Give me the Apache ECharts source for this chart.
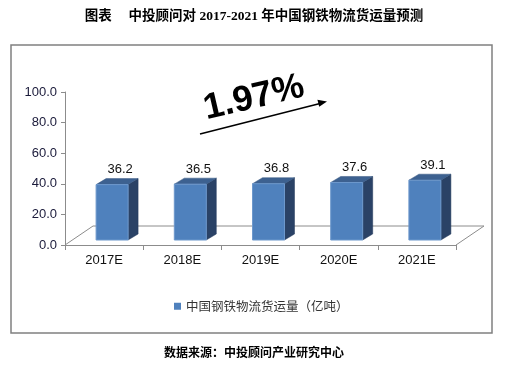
<!DOCTYPE html>
<html><head><meta charset="utf-8">
<script src="https://cdn.jsdelivr.net/npm/echarts@6/dist/echarts.min.js"></script>
<style>html,body{margin:0;padding:0;background:#fff}#c{width:508px;height:367px}</style>
</head><body><div id="c"></div>
<script>
var categories = ['2017E','2018E','2019E','2020E','2021E'];
var volumes = [36.2, 36.5, 36.8, 37.6, 39.1];
var yTicks = [0, 20, 40, 60, 80, 100];
var seriesName = '中国钢铁物流货运量（亿吨）';
var growthLabel = '1.97%';

var chart = echarts.init(document.getElementById('c'));
var FLOOR_DX = 28, FLOOR_DY = 19;
var BAR_OX = 8, BAR_OY = 5, BAR_W = 32, BAR_DX = 10, BAR_DY = 6;

function renderBar(params, api) {
  var i = api.value(0), v = api.value(1);
  var top = api.coord([i, v]), base = api.coord([i, 0]);
  var cx = top[0] + BAR_OX;
  var y0 = base[1] - BAR_OY, y1 = top[1] - BAR_OY;
  var l = cx - BAR_W / 2, r = cx + BAR_W / 2;
  return {
    type: 'group',
    children: [
      {type: 'polygon', shape: {points: [[r, y0], [r, y1], [r + BAR_DX, y1 - BAR_DY], [r + BAR_DX, y0 - BAR_DY]]},
       style: {fill: '#2a4266', stroke: '#22395a', lineWidth: 0.5}},
      {type: 'polygon', shape: {points: [[l, y1], [r, y1], [r + BAR_DX, y1 - BAR_DY], [l + BAR_DX, y1 - BAR_DY]]},
       style: {fill: '#3d6190', stroke: '#35557f', lineWidth: 0.5}},
      {type: 'rect', shape: {x: l, y: y1, width: BAR_W, height: y0 - y1},
       style: {fill: '#4f81bd', stroke: '#6d98cc', lineWidth: 1}},
      {type: 'text', x: cx + 8, y: y1 - 15,
       style: {text: v.toFixed(1), fill: '#111', font: '13px Arial, "Liberation Sans"', align: 'center', verticalAlign: 'middle'}}
    ]
  };
}

function renderFloor(params, api) {
  var c0 = api.coord([0, 0]);
  var band = api.size([1, 0])[0];
  var xl = c0[0] - band / 2, xr = xl + band * categories.length, y = c0[1];
  return {
    type: 'polyline',
    shape: {points: [[xl, y], [xl + FLOOR_DX, y - FLOOR_DY], [xr + FLOOR_DX, y - FLOOR_DY], [xr, y]]},
    style: {stroke: '#8c8c8c', lineWidth: 1, fill: null},
    z: 1
  };
}

var barData = volumes.map(function (v, i) { return [i, v]; });

chart.setOption({
  animation: false,
  title: {
    text: '图表　 中投顾问对 2017-2021 年中国钢铁物流货运量预测',
    left: 'center', top: 5,
    textStyle: {fontSize: 13.5, fontWeight: 'bold', color: '#000', fontFamily: '"Liberation Serif", "Noto Sans CJK SC", serif'}
  },
  legend: {
    data: [{name: seriesName, icon: 'rect'}],
    left: 169, top: 295, itemWidth: 7, itemHeight: 7, itemGap: 5,
    textStyle: {fontSize: 12.5, color: '#333', fontFamily: '"Noto Sans CJK SC", sans-serif'}
  },
  color: ['#4f81bd'],
  grid: {left: 65, right: 52, top: 92, bottom: 122},
  xAxis: {
    type: 'category', data: categories,
    axisLine: {lineStyle: {color: '#8c8c8c'}},
    axisTick: {show: true, length: 5, lineStyle: {color: '#8c8c8c'}},
    axisLabel: {color: '#111', fontSize: 13, margin: 9, fontFamily: 'Arial, "Liberation Sans"'}
  },
  yAxis: {
    type: 'value', min: yTicks[0], max: yTicks[yTicks.length - 1], interval: yTicks[1] - yTicks[0],
    axisLine: {show: true, lineStyle: {color: '#8c8c8c'}},
    axisTick: {show: true, length: 4, lineStyle: {color: '#8c8c8c'}},
    splitLine: {show: false},
    axisLabel: {color: '#1a1a3a', fontSize: 13, margin: 8, fontFamily: 'Arial, "Liberation Sans"',
      formatter: function (v) { return v.toFixed(1); }}
  },
  series: [
    {type: 'custom', name: 'floor', renderItem: renderFloor, data: [[0, 0]], silent: true, z: 1, legendHoverLink: false},
    {type: 'custom', name: seriesName, renderItem: renderBar, data: barData, z: 3,
     itemStyle: {color: '#4f81bd'}, encode: {x: 0, y: 1}}
  ],
  graphic: [
    {type: 'rect', shape: {x: 11, y: 45, width: 481, height: 288}, style: {fill: null, stroke: '#808080', lineWidth: 1.5}, z: 0},
    {type: 'text', x: 254, y: 98, rotation: 0.23,
     style: {text: growthLabel, font: 'bold 36px Arial, "Liberation Sans"', fill: '#000', align: 'center', verticalAlign: 'middle'}},
    {type: 'line', shape: {x1: 200, y1: 134, x2: 320, y2: 103.5}, style: {stroke: '#000', lineWidth: 1.5}},
    {type: 'polygon', shape: {points: [[327, 101.5], [319.2, 106.8], [317.4, 99.8]]}, style: {fill: '#000'}},
    {type: 'text', x: 254, y: 352,
     style: {text: '数据来源：中投顾问产业研究中心', font: 'bold 12px "Noto Sans CJK SC", sans-serif', fill: '#000', align: 'center', verticalAlign: 'middle'}}
  ]
});
</script></body></html>
